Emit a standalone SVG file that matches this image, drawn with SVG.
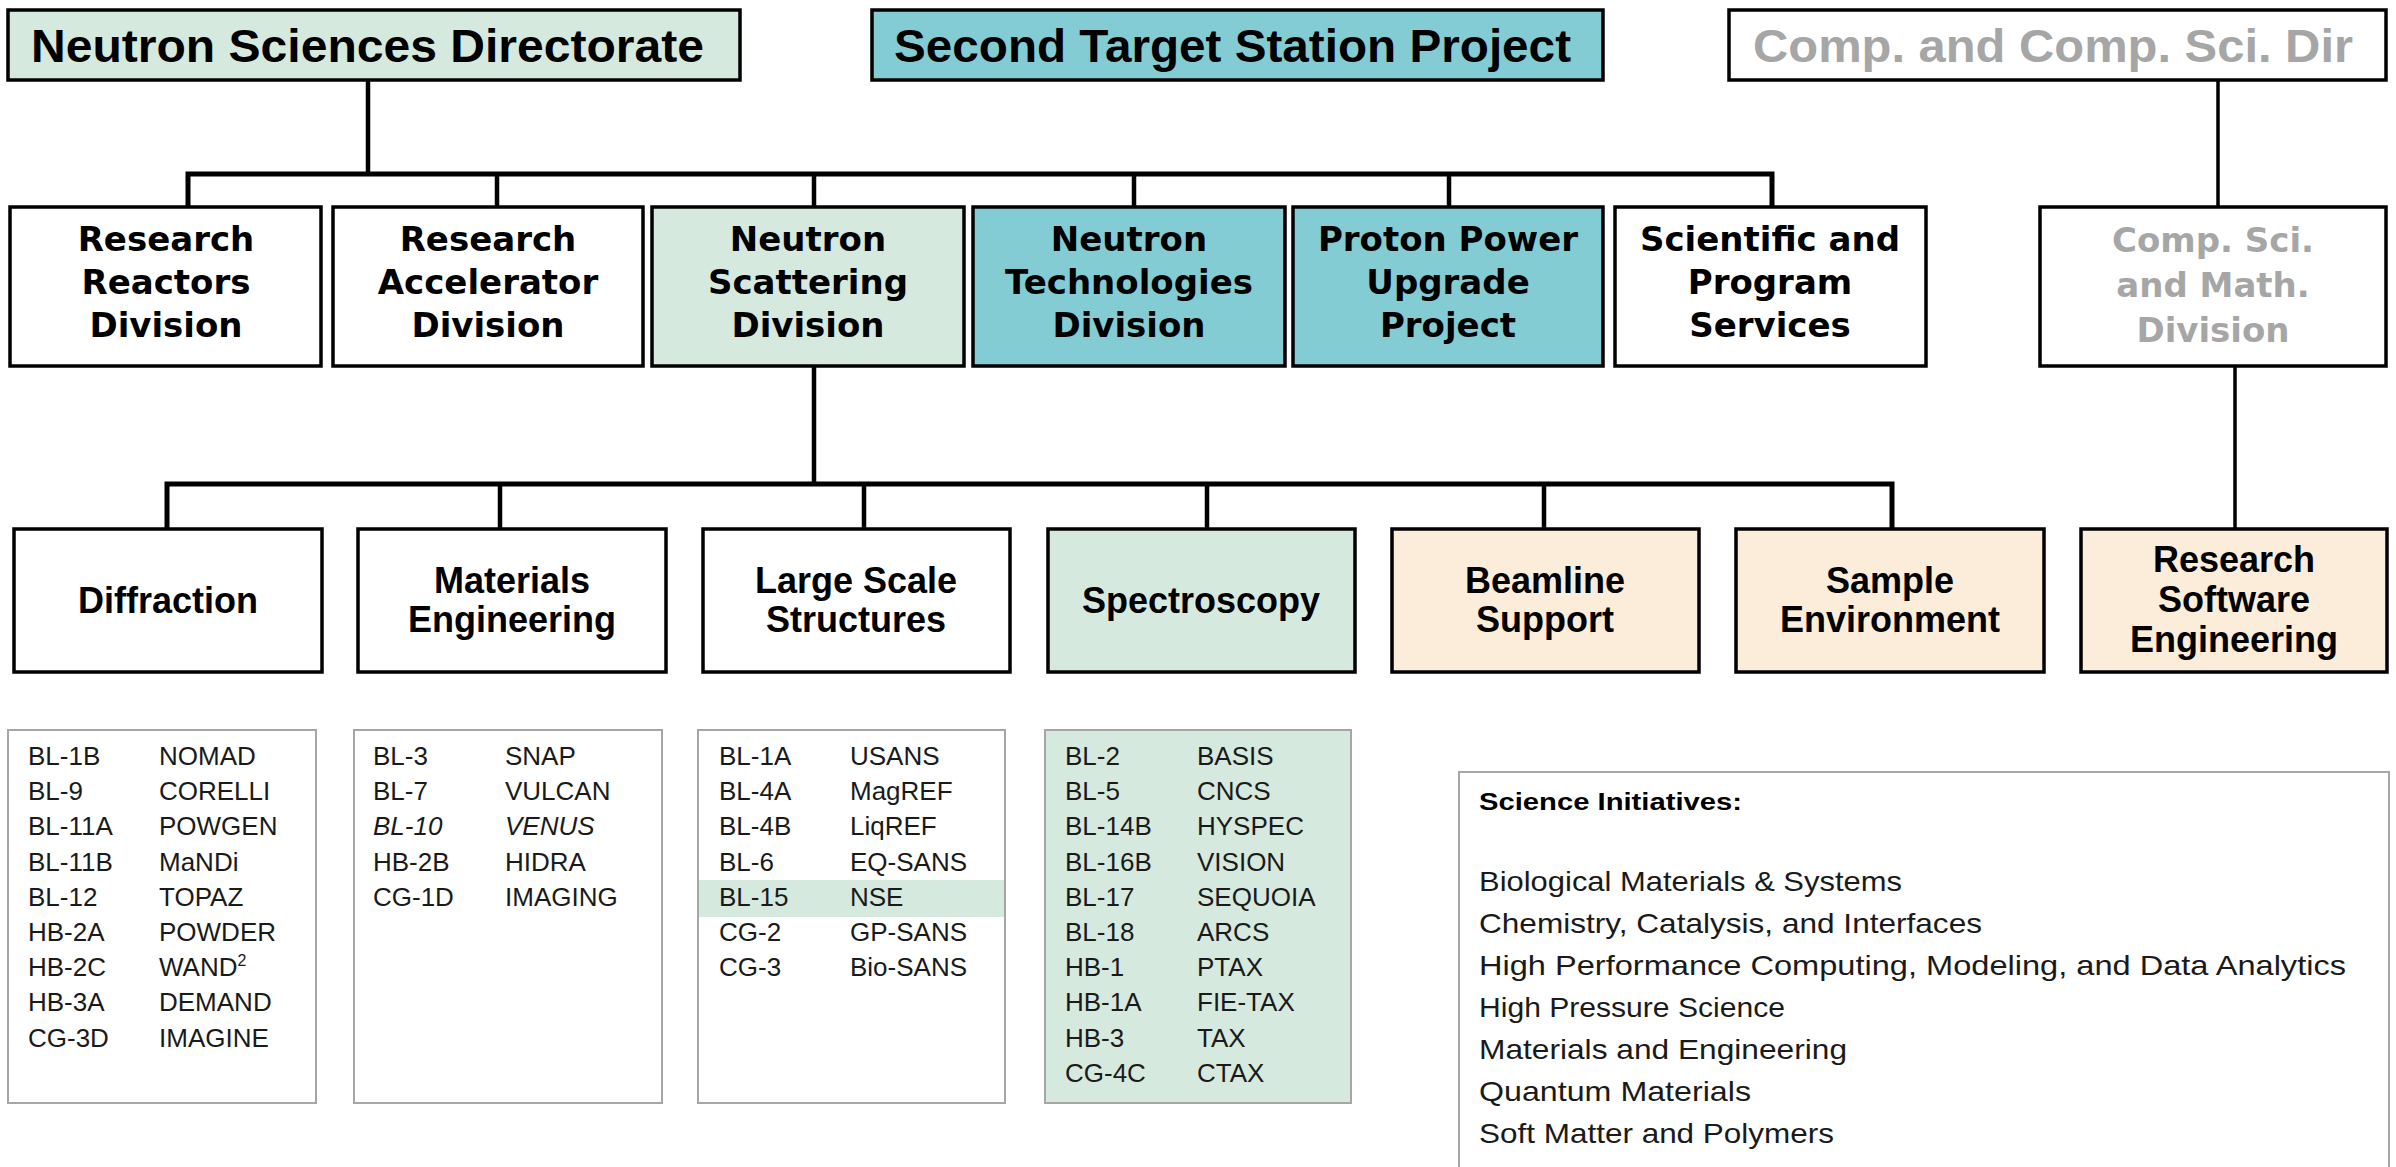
<svg xmlns="http://www.w3.org/2000/svg" width="2396" height="1167" viewBox="0 0 2396 1167">
<style>
.box{stroke:#000;stroke-width:3.5}
.w{fill:#fff}
.g{fill:#d6e9de}
.tl{fill:#84ccd3}
.c{fill:#fbedd9}
.t1{font-family:"Liberation Sans",Arial,sans-serif;font-weight:bold;font-size:47px;fill:#000}
.t2{font-family:"DejaVu Sans",sans-serif;font-weight:bold;font-size:34px;text-anchor:middle;fill:#000}
.t3{font-family:"Liberation Sans",Arial,sans-serif;font-weight:bold;font-size:36px;text-anchor:middle;fill:#000}
.gr{fill:#a6a6a6}
.list{stroke:#a6a6a6;stroke-width:2}
.li{font-family:"Liberation Sans",Arial,sans-serif;font-size:26px;fill:#1a1a1a}
.it{font-style:italic}
.si{font-family:"Liberation Sans",Arial,sans-serif;font-size:28px;fill:#1a1a1a}
.sib{font-family:"Liberation Sans",Arial,sans-serif;font-size:23px;font-weight:bold;fill:#000}
.conn{fill:none;stroke:#000;stroke-width:4.5;stroke-linejoin:miter}
.bar{fill:none;stroke:#000;stroke-width:5;stroke-linejoin:miter}
.thin{fill:none;stroke:#000;stroke-width:3.5}
</style>

<g id="connectors">
  <line class="conn" x1="368" y1="80" x2="368" y2="174"/>
  <path class="bar" d="M188,207 V174 H1772 V207"/>
  <line class="conn" x1="497" y1="174" x2="497" y2="207"/>
  <line class="conn" x1="814" y1="174" x2="814" y2="207"/>
  <line class="conn" x1="1134" y1="174" x2="1134" y2="207"/>
  <line class="conn" x1="1449" y1="174" x2="1449" y2="207"/>
  <line class="conn" x1="814" y1="366" x2="814" y2="484"/>
  <path class="bar" d="M167,529 V484 H1892 V529"/>
  <line class="conn" x1="500" y1="484" x2="500" y2="529"/>
  <line class="conn" x1="864" y1="484" x2="864" y2="529"/>
  <line class="conn" x1="1207" y1="484" x2="1207" y2="529"/>
  <line class="conn" x1="1544" y1="484" x2="1544" y2="529"/>
  <line class="thin" x1="2218" y1="80" x2="2218" y2="207"/>
  <line class="thin" x1="2235" y1="366" x2="2235" y2="529"/>
</g>

<g id="nsd">
  <rect class="box g" x="8" y="10" width="732" height="70"/>
  <text class="t1" x="31" y="62" textLength="673" lengthAdjust="spacingAndGlyphs">Neutron Sciences Directorate</text>
</g>
<g id="sts">
  <rect class="box tl" x="872" y="10" width="731" height="70"/>
  <text class="t1" x="894" y="62" textLength="677" lengthAdjust="spacingAndGlyphs">Second Target Station Project</text>
</g>
<g id="ccsd">
  <rect class="box w" x="1729" y="10" width="657" height="70"/>
  <text class="t1 gr" x="1753" y="62" textLength="600" lengthAdjust="spacingAndGlyphs">Comp. and Comp. Sci. Dir</text>
</g>

<g id="rrd">
  <rect class="box w" x="10" y="207" width="311" height="159"/>
  <text class="t2" x="166" y="251">Research</text>
  <text class="t2" x="166" y="294">Reactors</text>
  <text class="t2" x="166" y="337">Division</text>
</g>
<g id="rad">
  <rect class="box w" x="333" y="207" width="310" height="159"/>
  <text class="t2" x="488" y="251">Research</text>
  <text class="t2" x="488" y="294">Accelerator</text>
  <text class="t2" x="488" y="337">Division</text>
</g>
<g id="nsdiv">
  <rect class="box g" x="652" y="207" width="312" height="159"/>
  <text class="t2" x="808" y="251">Neutron</text>
  <text class="t2" x="808" y="294">Scattering</text>
  <text class="t2" x="808" y="337">Division</text>
</g>
<g id="ntd">
  <rect class="box tl" x="973" y="207" width="312" height="159"/>
  <text class="t2" x="1129" y="251">Neutron</text>
  <text class="t2" x="1129" y="294">Technologies</text>
  <text class="t2" x="1129" y="337">Division</text>
</g>
<g id="ppu">
  <rect class="box tl" x="1293" y="207" width="310" height="159"/>
  <text class="t2" x="1448" y="251">Proton Power</text>
  <text class="t2" x="1448" y="294">Upgrade</text>
  <text class="t2" x="1448" y="337">Project</text>
</g>
<g id="sps">
  <rect class="box w" x="1615" y="207" width="311" height="159"/>
  <text class="t2" x="1770" y="251">Scientific and</text>
  <text class="t2" x="1770" y="294">Program</text>
  <text class="t2" x="1770" y="337">Services</text>
</g>
<g id="csmd">
  <rect class="box w" x="2040" y="207" width="346" height="159"/>
  <text class="t2 gr" x="2213" y="252">Comp. Sci.</text>
  <text class="t2 gr" x="2213" y="297">and Math.</text>
  <text class="t2 gr" x="2213" y="342">Division</text>
</g>

<g id="diffraction">
  <rect class="box w" x="14" y="529" width="308" height="143"/>
  <text class="t3" x="168" y="613">Diffraction</text>
</g>
<g id="materials">
  <rect class="box w" x="358" y="529" width="308" height="143"/>
  <text class="t3" x="512" y="593">Materials</text>
  <text class="t3" x="512" y="632">Engineering</text>
</g>
<g id="lss">
  <rect class="box w" x="703" y="529" width="307" height="143"/>
  <text class="t3" x="856" y="593">Large Scale</text>
  <text class="t3" x="856" y="632">Structures</text>
</g>
<g id="spectroscopy">
  <rect class="box g" x="1048" y="529" width="307" height="143"/>
  <text class="t3" x="1201" y="613">Spectroscopy</text>
</g>
<g id="beamline">
  <rect class="box c" x="1392" y="529" width="307" height="143"/>
  <text class="t3" x="1545" y="593">Beamline</text>
  <text class="t3" x="1545" y="632">Support</text>
</g>
<g id="sample">
  <rect class="box c" x="1736" y="529" width="308" height="143"/>
  <text class="t3" x="1890" y="593">Sample</text>
  <text class="t3" x="1890" y="632">Environment</text>
</g>
<g id="rse">
  <rect class="box c" x="2081" y="529" width="306" height="143"/>
  <text class="t3" x="2234" y="572">Research</text>
  <text class="t3" x="2234" y="612">Software</text>
  <text class="t3" x="2234" y="652">Engineering</text>
</g>

<g id="list-diffraction">
  <rect class="list w" x="8" y="730" width="308" height="373"/>
  <g class="li">
    <text x="28" y="765">BL-1B</text><text x="159" y="765">NOMAD</text>
    <text x="28" y="800">BL-9</text><text x="159" y="800">CORELLI</text>
    <text x="28" y="835">BL-11A</text><text x="159" y="835">POWGEN</text>
    <text x="28" y="871">BL-11B</text><text x="159" y="871">MaNDi</text>
    <text x="28" y="906">BL-12</text><text x="159" y="906">TOPAZ</text>
    <text x="28" y="941">HB-2A</text><text x="159" y="941">POWDER</text>
    <text x="28" y="976">HB-2C</text><text x="159" y="976">WAND<tspan font-size="16" dy="-10">2</tspan></text>
    <text x="28" y="1011">HB-3A</text><text x="159" y="1011">DEMAND</text>
    <text x="28" y="1047">CG-3D</text><text x="159" y="1047">IMAGINE</text>
  </g>
</g>
<g id="list-materials">
  <rect class="list w" x="354" y="730" width="308" height="373"/>
  <g class="li">
    <text x="373" y="765">BL-3</text><text x="505" y="765">SNAP</text>
    <text x="373" y="800">BL-7</text><text x="505" y="800">VULCAN</text>
    <text class="it" x="373" y="835">BL-10</text><text class="it" x="505" y="835">VENUS</text>
    <text x="373" y="871">HB-2B</text><text x="505" y="871">HIDRA</text>
    <text x="373" y="906">CG-1D</text><text x="505" y="906">IMAGING</text>
  </g>
</g>
<g id="list-lss">
  <rect class="list w" x="698" y="730" width="307" height="373"/>
  <rect x="699" y="880" width="305" height="37" fill="#d6e9de"/>
  <g class="li">
    <text x="719" y="765">BL-1A</text><text x="850" y="765">USANS</text>
    <text x="719" y="800">BL-4A</text><text x="850" y="800">MagREF</text>
    <text x="719" y="835">BL-4B</text><text x="850" y="835">LiqREF</text>
    <text x="719" y="871">BL-6</text><text x="850" y="871">EQ-SANS</text>
    <text x="719" y="906">BL-15</text><text x="850" y="906">NSE</text>
    <text x="719" y="941">CG-2</text><text x="850" y="941">GP-SANS</text>
    <text x="719" y="976">CG-3</text><text x="850" y="976">Bio-SANS</text>
  </g>
</g>
<g id="list-spectroscopy">
  <rect class="list g" x="1045" y="730" width="306" height="373"/>
  <g class="li">
    <text x="1065" y="765">BL-2</text><text x="1197" y="765">BASIS</text>
    <text x="1065" y="800">BL-5</text><text x="1197" y="800">CNCS</text>
    <text x="1065" y="835">BL-14B</text><text x="1197" y="835">HYSPEC</text>
    <text x="1065" y="871">BL-16B</text><text x="1197" y="871">VISION</text>
    <text x="1065" y="906">BL-17</text><text x="1197" y="906">SEQUOIA</text>
    <text x="1065" y="941">BL-18</text><text x="1197" y="941">ARCS</text>
    <text x="1065" y="976">HB-1</text><text x="1197" y="976">PTAX</text>
    <text x="1065" y="1011">HB-1A</text><text x="1197" y="1011">FIE-TAX</text>
    <text x="1065" y="1047">HB-3</text><text x="1197" y="1047">TAX</text>
    <text x="1065" y="1082">CG-4C</text><text x="1197" y="1082">CTAX</text>
  </g>
</g>

<g id="science-initiatives">
  <rect class="list w" x="1459" y="772" width="930" height="420"/>
  <text class="sib" x="1479" y="810" textLength="263" lengthAdjust="spacingAndGlyphs">Science Initiatives:</text>
  <text class="si" x="1479" y="891" textLength="423" lengthAdjust="spacingAndGlyphs">Biological Materials &amp; Systems</text>
  <text class="si" x="1479" y="933" textLength="503" lengthAdjust="spacingAndGlyphs">Chemistry, Catalysis, and Interfaces</text>
  <text class="si" x="1479" y="975" textLength="867" lengthAdjust="spacingAndGlyphs">High Performance Computing, Modeling, and Data Analytics</text>
  <text class="si" x="1479" y="1017" textLength="306" lengthAdjust="spacingAndGlyphs">High Pressure Science</text>
  <text class="si" x="1479" y="1059" textLength="368" lengthAdjust="spacingAndGlyphs">Materials and Engineering</text>
  <text class="si" x="1479" y="1101" textLength="272" lengthAdjust="spacingAndGlyphs">Quantum Materials</text>
  <text class="si" x="1479" y="1143" textLength="355" lengthAdjust="spacingAndGlyphs">Soft Matter and Polymers</text>
</g>
</svg>
